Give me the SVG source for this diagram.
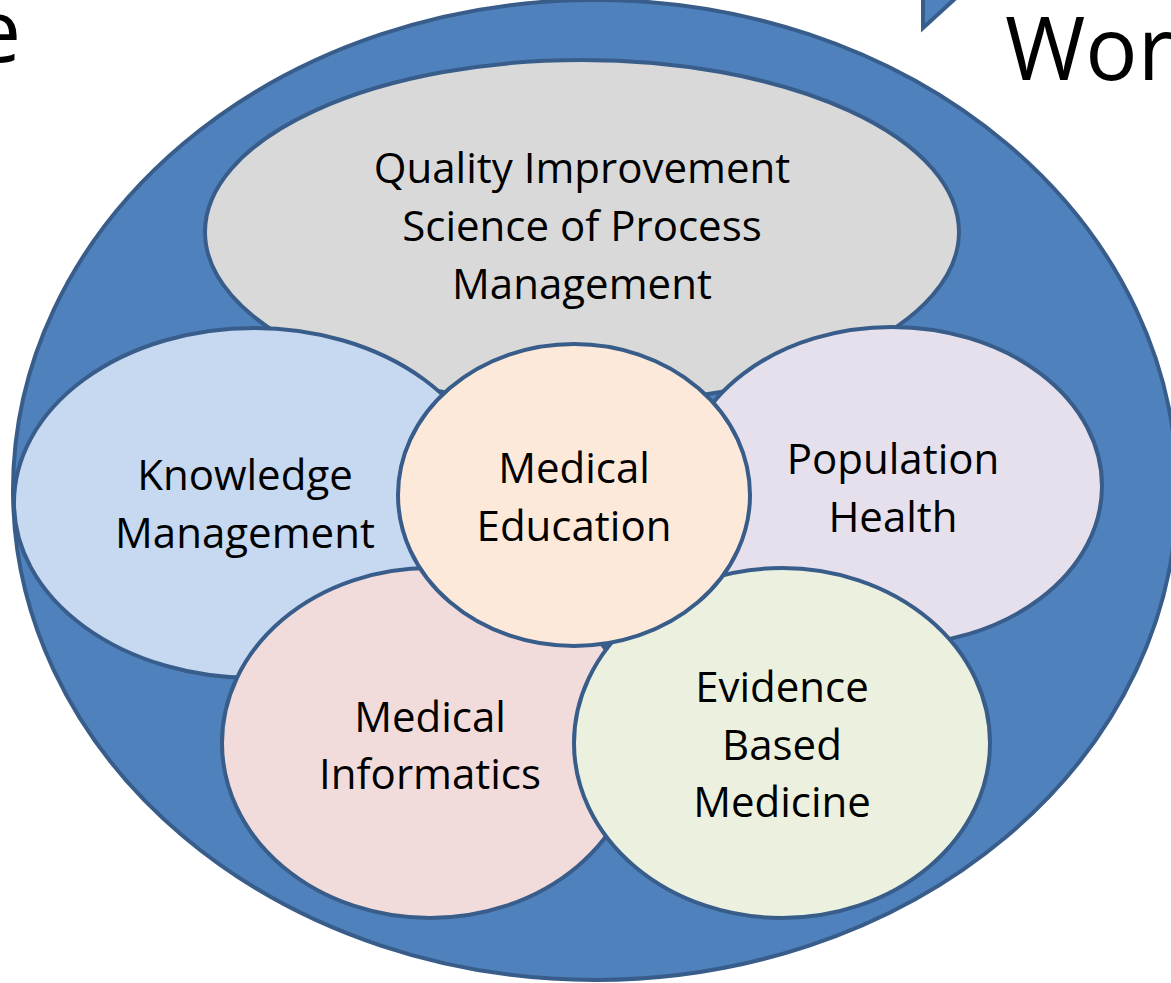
<svg xmlns="http://www.w3.org/2000/svg" width="1171" height="983" viewBox="0 0 1171 983">
  <style>
    .sh { stroke: #385D8A; stroke-width: 4; }
    .lbl { font-family: "Open Sans", "Liberation Sans", sans-serif; font-size: 42px; fill: #000; text-anchor: middle; }
    .big { font-family: "Open Sans", "Liberation Sans", sans-serif; font-size: 87px; fill: #000; }
  </style>
  <rect width="1171" height="983" fill="#FFFFFF"/>
  <g id="title-left"><text class="big" x="21" y="62" text-anchor="end">e</text></g>
  <g id="title-right"><text class="big" x="1005" y="80">Wor</text></g>
  <g id="arrow-tip"><polygon class="sh" points="923,-4 923,28 958,-4" fill="#4F81BD" stroke-width="3"/></g>
  <g id="outer"><ellipse class="sh" cx="595" cy="490" rx="582" ry="490" fill="#4F81BD" stroke-width="3"/></g>
  <g id="quality">
    <ellipse class="sh" cx="582" cy="232" rx="377" ry="172" fill="#D9D9D9"/>
    <text class="lbl" x="582" y="183">Quality Improvement</text>
    <text class="lbl" x="582" y="241">Science of Process</text>
    <text class="lbl" x="582" y="299">Management</text>
  </g>
  <g id="knowledge">
    <ellipse class="sh" cx="254" cy="503" rx="240" ry="175" fill="#C6D9F1"/>
    <text class="lbl" x="245" y="490">Knowledge</text>
    <text class="lbl" x="245" y="548">Management</text>
  </g>
  <g id="population">
    <ellipse class="sh" cx="892" cy="486" rx="210" ry="159" fill="#E5E0EC"/>
    <text class="lbl" x="893" y="474">Population</text>
    <text class="lbl" x="893" y="532">Health</text>
  </g>
  <g id="informatics">
    <ellipse class="sh" cx="430" cy="743" rx="208" ry="175" fill="#F2DCDB"/>
    <text class="lbl" x="430" y="732">Medical</text>
    <text class="lbl" x="430" y="789">Informatics</text>
  </g>
  <g id="ebm">
    <ellipse class="sh" cx="782" cy="743" rx="208" ry="175" fill="#EBF1DE"/>
    <text class="lbl" x="782" y="702">Evidence</text>
    <text class="lbl" x="782" y="760">Based</text>
    <text class="lbl" x="782" y="817">Medicine</text>
  </g>
  <g id="education">
    <ellipse class="sh" cx="574" cy="495" rx="176" ry="151" fill="#FDE9D9"/>
    <text class="lbl" x="574" y="483">Medical</text>
    <text class="lbl" x="574" y="541">Education</text>
  </g>
  <g id="connectors"></g>
</svg>
